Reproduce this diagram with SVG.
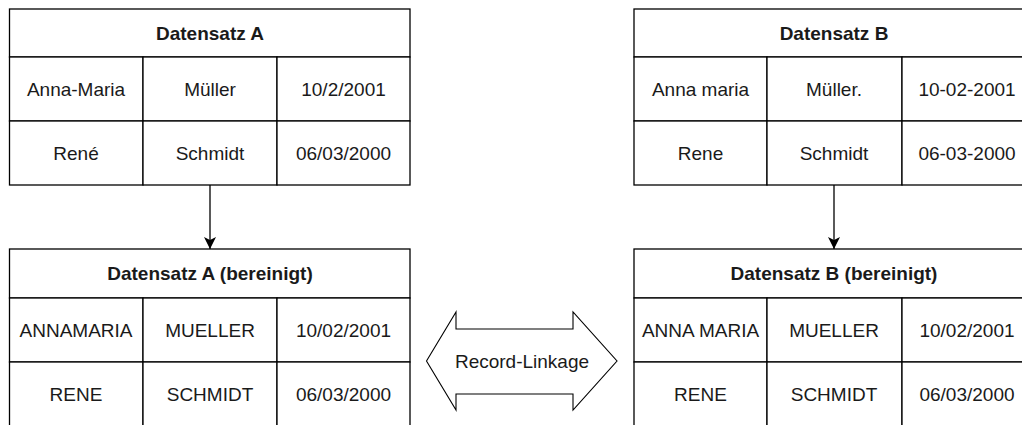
<svg xmlns="http://www.w3.org/2000/svg" width="1022" height="425" viewBox="0 0 1022 425">
  <style>
    .cell { fill: #ffffff; stroke: #000000; stroke-width: 1.3; }
    .txt { font-family: "Liberation Sans", Arial, sans-serif; font-size: 19px; fill: #1a1a1a; text-anchor: middle; dominant-baseline: central; }
    .hdr { font-weight: bold; }
    .edge { stroke: #000000; stroke-width: 1.3; fill: none; }
  </style>
  <defs>
    <marker id="arrow" markerWidth="12" markerHeight="12" refX="10" refY="5" orient="auto" markerUnits="userSpaceOnUse" viewBox="0 0 10 10">
      <path d="M0,0 L10,5 L0,10 L2.5,5 Z" fill="#000000"/>
    </marker>
  </defs>
  <rect width="1022" height="425" fill="#ffffff"/>

  <!-- Table A (raw) -->
  <g id="tableA">
    <rect class="cell" x="9.5" y="9" width="400.5" height="48"/>
    <rect class="cell" x="9.5" y="57" width="133.5" height="64"/>
    <rect class="cell" x="143" y="57" width="134" height="64"/>
    <rect class="cell" x="277" y="57" width="133" height="64"/>
    <rect class="cell" x="9.5" y="121" width="133.5" height="64"/>
    <rect class="cell" x="143" y="121" width="134" height="64"/>
    <rect class="cell" x="277" y="121" width="133" height="64"/>
    <text class="txt hdr" x="210" y="33">Datensatz A</text>
    <text class="txt" x="76" y="89">Anna-Maria</text>
    <text class="txt" x="210" y="89">Müller</text>
    <text class="txt" x="343.5" y="89">10/2/2001</text>
    <text class="txt" x="76" y="153">René</text>
    <text class="txt" x="210" y="153">Schmidt</text>
    <text class="txt" x="343.5" y="153">06/03/2000</text>
  </g>

  <!-- Table B (raw) -->
  <g id="tableB">
    <rect class="cell" x="634" y="9" width="402" height="48"/>
    <rect class="cell" x="634" y="57" width="133" height="64"/>
    <rect class="cell" x="767" y="57" width="135" height="64"/>
    <rect class="cell" x="902" y="57" width="134" height="64"/>
    <rect class="cell" x="634" y="121" width="133" height="64"/>
    <rect class="cell" x="767" y="121" width="135" height="64"/>
    <rect class="cell" x="902" y="121" width="134" height="64"/>
    <text class="txt hdr" x="834" y="33">Datensatz B</text>
    <text class="txt" x="700.5" y="89">Anna maria</text>
    <text class="txt" x="834" y="89">Müller.</text>
    <text class="txt" x="967" y="89">10-02-2001</text>
    <text class="txt" x="700.5" y="153">Rene</text>
    <text class="txt" x="834" y="153">Schmidt</text>
    <text class="txt" x="967" y="153">06-03-2000</text>
  </g>

  <!-- Table A (cleaned) -->
  <g id="tableAclean">
    <rect class="cell" x="9.5" y="249" width="400.5" height="49"/>
    <rect class="cell" x="9.5" y="298" width="133.5" height="64"/>
    <rect class="cell" x="143" y="298" width="134" height="64"/>
    <rect class="cell" x="277" y="298" width="133" height="64"/>
    <rect class="cell" x="9.5" y="362" width="133.5" height="64"/>
    <rect class="cell" x="143" y="362" width="134" height="64"/>
    <rect class="cell" x="277" y="362" width="133" height="64"/>
    <text class="txt hdr" x="210" y="273.5">Datensatz A (bereinigt)</text>
    <text class="txt" x="76" y="330">ANNAMARIA</text>
    <text class="txt" x="210" y="330">MUELLER</text>
    <text class="txt" x="343.5" y="330">10/02/2001</text>
    <text class="txt" x="76" y="394">RENE</text>
    <text class="txt" x="210" y="394">SCHMIDT</text>
    <text class="txt" x="343.5" y="394">06/03/2000</text>
  </g>

  <!-- Table B (cleaned) -->
  <g id="tableBclean">
    <rect class="cell" x="634" y="249" width="402" height="49"/>
    <rect class="cell" x="634" y="298" width="133" height="64"/>
    <rect class="cell" x="767" y="298" width="135" height="64"/>
    <rect class="cell" x="902" y="298" width="134" height="64"/>
    <rect class="cell" x="634" y="362" width="133" height="64"/>
    <rect class="cell" x="767" y="362" width="135" height="64"/>
    <rect class="cell" x="902" y="362" width="134" height="64"/>
    <text class="txt hdr" x="834" y="273.5">Datensatz B (bereinigt)</text>
    <text class="txt" x="700.5" y="330">ANNA MARIA</text>
    <text class="txt" x="834" y="330">MUELLER</text>
    <text class="txt" x="967" y="330">10/02/2001</text>
    <text class="txt" x="700.5" y="394">RENE</text>
    <text class="txt" x="834" y="394">SCHMIDT</text>
    <text class="txt" x="967" y="394">06/03/2000</text>
  </g>

  <!-- Record-linkage double arrow -->
  <g id="recordLinkage">
    <path d="M426.5,361 L456,312 L456,329 L573,329 L573,312 L617,361 L573,410 L573,394 L456,394 L456,410 Z" fill="#ffffff" stroke="#000000" stroke-width="1.1" stroke-linejoin="miter"/>
    <text class="txt" x="522" y="361">Record-Linkage</text>
  </g>

  <!-- Connectors -->
  <g id="connectors">
    <line class="edge" x1="210" y1="185" x2="210" y2="249" marker-end="url(#arrow)"/>
    <line class="edge" x1="834" y1="185" x2="834" y2="249" marker-end="url(#arrow)"/>
  </g>
</svg>
